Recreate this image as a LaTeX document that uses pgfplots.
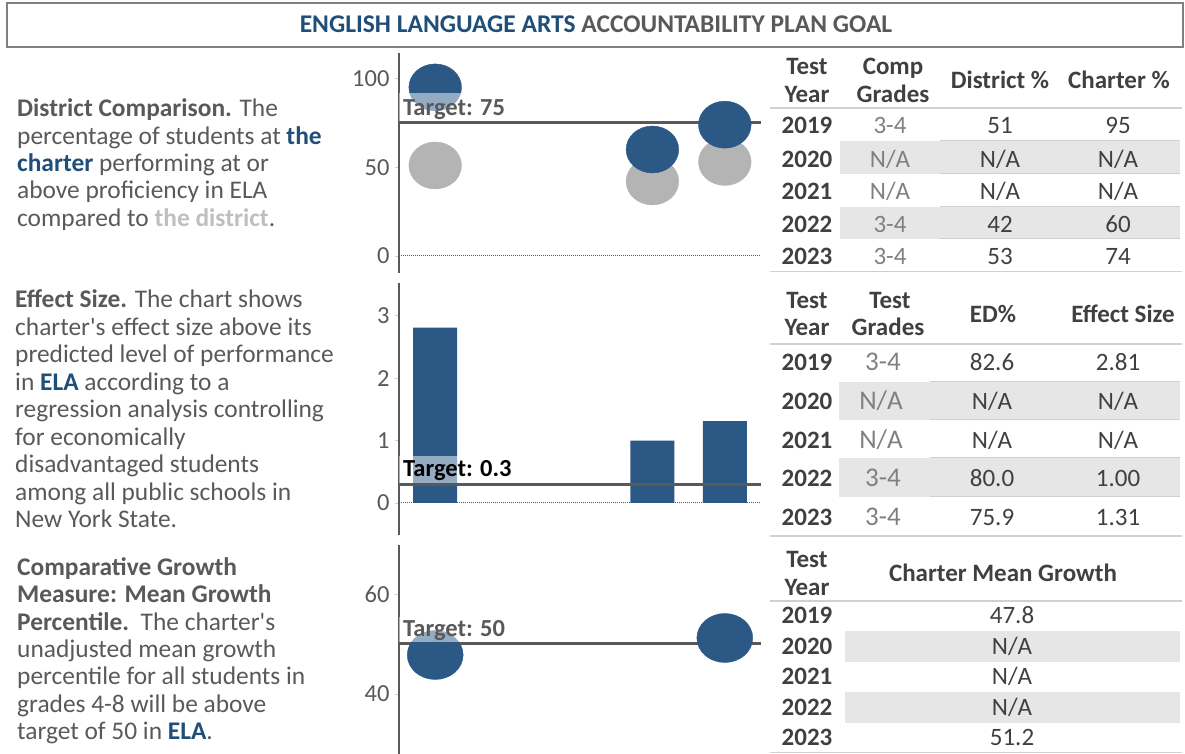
\documentclass[border=0pt]{standalone}
\usepackage{pgfplots}
\pgfplotsset{compat=1.18}
\usepackage{fontspec}
\setmainfont{Carlito}
\definecolor{cblue}{HTML}{2C5885}
\definecolor{tblue}{HTML}{1F4E79}
\definecolor{cgray}{HTML}{B4B4B4}
\definecolor{txt}{HTML}{595959}
\definecolor{dark}{HTML}{404040}
\definecolor{lt}{HTML}{808080}
\definecolor{band}{HTML}{E6E6E6}
\definecolor{rulec}{HTML}{D0D0D0}
\definecolor{dist}{HTML}{BFBFBF}
\newcommand{\fA}{\fontsize{25.4}{25.4}\selectfont}
\newcommand{\fT}{\fontsize{25}{25}\selectfont}
\newcommand{\fK}{\fontsize{24.5}{24.5}\selectfont}
\newcommand{\fL}{\bfseries\fontsize{24.5}{24.5}\selectfont}
\newcommand{\ap}{\textquotesingle}
\pgfplotsset{
  panel/.style={
    scale only axis, width=362pt,
    xmin=2018.5, xmax=2023.5,
    axis x line=none, axis y line=left,
    y axis line style={-, draw=txt, line width=2pt},
    tick align=outside,
    ytick style={draw=rulec, line width=0.6pt}, major tick length=4pt,
    yticklabel style={font=\fK, color=txt, xshift=-2pt},
    /pgf/number format/assume math mode=true,
    clip=false,
  },
}
\tikzset{
  target/.style={draw=txt, line width=3pt},
  zero/.style={draw=txt, densely dotted, line width=1pt},
  tbox/.style={fill=white, fill opacity=0.5},
  tlab/.style={anchor=base west, inner sep=0pt, font=\fL},
}
\begin{document}
\begin{tikzpicture}
\path[use as bounding box] (0pt,0pt) rectangle (1185pt,754pt);

% ---------- chart 1 ----------
\begin{axis}[panel, at={(399pt,481pt)}, anchor=south west, height=220pt,
  ymin=-9.6, ymax=114.4, ytick={0,50,100}]
\addplot[zero] coordinates {(2018.5,0) (2023.5,0)};
\addplot[only marks, mark=*, mark size=23.5pt, color=cgray,
  mark options={xscale=1.12}]
  coordinates {(2019,51) (2022,42) (2023,53)};
\addplot[only marks, mark=*, mark size=23.5pt, color=cblue,
  mark options={xscale=1.12}]
  coordinates {(2019,95) (2022,60) (2023,74)};
\addplot[target] coordinates {(2018.5,75) (2023.5,75)};
\coordinate (T1) at (axis cs:2018.5,75);
\end{axis}
\fill[tbox] ([yshift=1.5pt]T1) rectangle ++(111pt,28.5pt);
\node[tlab, text=txt] at ([xshift=4pt,yshift=7pt]T1) {Target: 75};

% ---------- chart 2 ----------
\begin{axis}[panel, at={(399pt,219pt)}, anchor=south west, height=252pt,
  ymin=-0.513, ymax=3.525, ytick={0,1,2,3}]
\addplot[zero] coordinates {(2018.5,0) (2023.5,0)};
\addplot[ybar, bar width=44pt, fill=cblue, draw=none]
  coordinates {(2019,2.81) (2022,1.00) (2023,1.31)};
\addplot[target] coordinates {(2018.5,0.3) (2023.5,0.3)};
\coordinate (T2) at (axis cs:2018.5,0.3);
\end{axis}
\fill[tbox] ([yshift=1.5pt]T2) rectangle ++(122pt,26.5pt);
\node[tlab, text=black] at ([xshift=4pt,yshift=7.3pt]T2) {Target: 0.3};

% ---------- chart 3 ----------
\begin{axis}[panel, at={(399pt,0pt)}, anchor=south west, height=209pt,
  ymin=28, ymax=69.8, ytick={40,60}]
\addplot[only marks, mark=*, mark size=24.5pt, color=cblue,
  mark options={xscale=1.14}]
  coordinates {(2019,47.8) (2023,51.2)};
\addplot[target] coordinates {(2018.5,50) (2023.5,50)};
\coordinate (T3) at (axis cs:2018.5,50);
\end{axis}
\fill[tbox] ([yshift=1.5pt]T3) rectangle ++(111pt,25.5pt);
\node[tlab, text=txt] at ([xshift=4pt,yshift=7pt]T3) {Target: 50};

\begin{scope}[x=1pt, y=-1pt, shift={(0pt,754pt)}]
% title
\draw[draw=lt, line width=1.2pt] (7,3) rectangle (1183,47);
\node[font=\bfseries\fontsize{25.5}{25.5}\selectfont, text=txt] at (596,24)
  {{\color{tblue}ENGLISH LANGUAGE ARTS} ACCOUNTABILITY PLAN GOAL};

% left texts
\begin{scope}[every node/.style={anchor=base west, inner sep=0pt, font=\fA, text=txt}]
\node at (17,117) {\textbf{District Comparison.} The};
\node at (17,144.3) {percentage of students at \textbf{\color{tblue}the}};
\node at (17,171.6) {\textbf{\color{tblue}charter} performing at or};
\node at (17,199) {above proficiency in ELA};
\node at (17,226.2) {compared to \textbf{\color{dist}the district}.};

\node at (15,308) {\textbf{Effect Size.} The chart shows};
\node at (15,335.5) {charter\ap s effect size above its};
\node at (15,363) {predicted level of performance};
\node at (15,390.5) {in \textbf{\color{tblue}ELA} according to a};
\node at (15,418) {regression analysis controlling};
\node at (15,445.5) {for economically};
\node at (15,473) {disadvantaged students};
\node at (15,500.5) {among all public schools in};
\node at (15,528) {New York State.};

\node at (17,576) {\textbf{Comparative Growth}};
\node at (17,603) {\textbf{Measure: Mean Growth}};
\node at (17,630.5) {\textbf{Percentile.}\ \ The charter\ap s};
\node at (17,658) {unadjusted mean growth};
\node at (17,685) {percentile for all students in};
\node at (17,712.5) {grades 4-8 will be above};
\node at (17,740) {target of 50 in \textbf{\color{tblue}ELA}.};
\end{scope}

% ---------- table 1 ----------
\fill[band] (840,140.7) rectangle (1180,174);
\fill[band] (840,206.7) rectangle (1180,239);
\draw[rulec, line width=1pt] (940,140.7) -- (1180,140.7) (940,174) -- (1180,174)
  (940,206.7) -- (1180,206.7) (940,239) -- (1180,239);
\draw[rulec, line width=1.6pt] (770,108) -- (1182,108) (770,271.7) -- (1182,271.7);
\begin{scope}[every node/.style={anchor=base, inner sep=0pt, font=\fT, text=dark}]
\node[font=\bfseries\fT] at (807,75) {Test};
\node[font=\bfseries\fT] at (807,103) {Year};
\node[font=\bfseries\fT] at (893,75) {Comp};
\node[font=\bfseries\fT] at (893,103) {Grades};
\node[font=\bfseries\fT] at (1000,89) {District \%};
\node[font=\bfseries\fT] at (1119,89) {Charter \%};
\foreach \yy/\yr/\g/\d/\c in {134/2019/3-4/51/95, 168/2020/N\slash A/N\slash A/N\slash A,
  200/2021/N\slash A/N\slash A/N\slash A, 233/2022/3-4/42/60, 265/2023/3-4/53/74}{
  \node[font=\bfseries\fT] at (807,\yy) {\yr};
  \node[text=lt] at (890,\yy) {\g};
  \node at (1000,\yy) {\d};
  \node at (1118,\yy) {\c};
}
\end{scope}

% ---------- table 2 ----------
\fill[band] (839,381.7) rectangle (1180,420);
\fill[band] (839,458) rectangle (1180,496.7);
\draw[rulec, line width=1pt] (930,381.7) -- (1180,381.7) (930,420) -- (1180,420)
  (930,458) -- (1180,458) (930,496.7) -- (1180,496.7);
\draw[rulec, line width=1.6pt] (770,344) -- (1182,344) (770,536) -- (1182,536);
\begin{scope}[every node/.style={anchor=base, inner sep=0pt, font=\fT, text=dark}]
\node[font=\bfseries\fT] at (807,309) {Test};
\node[font=\bfseries\fT] at (807,336) {Year};
\node[font=\bfseries\fT] at (890,309) {Test};
\node[font=\bfseries\fT] at (888,336) {Grades};
\node[font=\bfseries\fT] at (993,323) {ED\%};
\node[font=\bfseries\fT] at (1123,323) {Effect Size};
\foreach \yy/\yr/\g/\gx/\d/\c in {371/2019/3-4/883/82.6/2.81, 410/2020/N\slash A/881/N\slash A/N\slash A,
  449/2021/N\slash A/881/N\slash A/N\slash A, 487/2022/3-4/883/80.0/1.00, 526/2023/3-4/883/75.9/1.31}{
  \node[font=\bfseries\fT] at (807,\yy) {\yr};
  \node[text=lt, font=\fontsize{27}{27}\selectfont] at (\gx,\yy) {\g};
  \node at (992,\yy) {\d};
  \node at (1118,\yy) {\c};
}
\end{scope}

% ---------- table 3 ----------
\fill[band] (845,631) rectangle (1180,661.7);
\fill[band] (845,691.7) rectangle (1180,722.7);
\draw[rulec, line width=1.6pt] (770,601) -- (1182,601) (770,752.7) -- (1182,752.7);
\begin{scope}[every node/.style={anchor=base, inner sep=0pt, font=\fT, text=dark}]
\node[font=\bfseries\fT] at (807,568) {Test};
\node[font=\bfseries\fT] at (807,596) {Year};
\node[font=\bfseries\fT] at (1003,582) {Charter Mean Growth};
\foreach \yy/\yr/\v in {624/2019/47.8, 654.5/2020/N\slash A, 685/2021/N\slash A,
  715.5/2022/N\slash A, 746/2023/51.2}{
  \node[font=\bfseries\fT] at (807,\yy) {\yr};
  \node at (1012,\yy) {\v};
}
\end{scope}
\end{scope}
\end{tikzpicture}
\end{document}
